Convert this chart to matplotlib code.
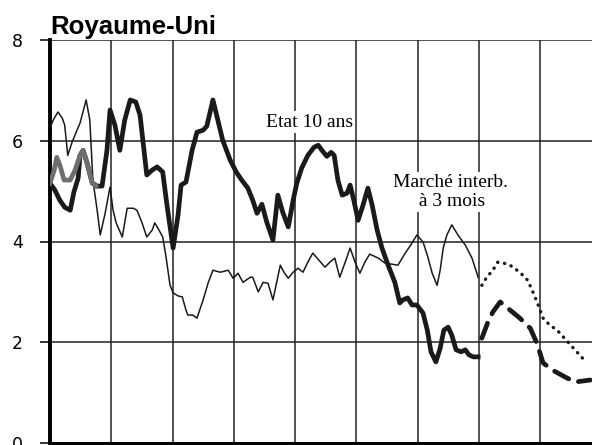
import matplotlib.pyplot as plt

# années (fraction) et taux
etat_x = [1990.00, 1990.08, 1990.16, 1990.24, 1990.33, 1990.39, 1990.46, 1990.49, 1990.54,
          1990.60, 1990.69, 1990.77, 1990.85, 1990.93, 1990.98, 1991.06, 1991.14, 1991.22,
          1991.31, 1991.40, 1991.47, 1991.58, 1991.67, 1991.75, 1991.84, 1991.91, 1992.01,
          1992.09, 1992.14, 1992.22, 1992.32, 1992.40, 1992.50, 1992.56, 1992.66, 1992.74,
          1992.82, 1992.94, 1993.04, 1993.13, 1993.23, 1993.31, 1993.38, 1993.46, 1993.54,
          1993.64, 1993.72, 1993.80, 1993.89, 1993.97, 1994.03, 1994.11, 1994.21, 1994.31,
          1994.38, 1994.44, 1994.52, 1994.59, 1994.64, 1994.70, 1994.77, 1994.85, 1994.90,
          1994.96, 1995.03, 1995.11, 1995.19, 1995.26, 1995.34, 1995.42, 1995.52, 1995.63,
          1995.71, 1995.76, 1995.84, 1995.91, 1995.99, 1996.09, 1996.16, 1996.22, 1996.30,
          1996.37, 1996.43, 1996.50, 1996.56, 1996.63, 1996.71, 1996.78, 1996.84, 1996.91,
          1996.99]
etat_y = [5.16, 5.02, 4.82, 4.68, 4.62, 4.98, 5.26, 5.71, 5.81,
          5.58, 5.16, 5.10, 5.10, 5.81, 6.61, 6.31, 5.81, 6.41,
          6.81, 6.77, 6.51, 5.32, 5.42, 5.48, 5.38, 4.72, 3.87,
          4.52, 5.12, 5.18, 5.81, 6.17, 6.21, 6.29, 6.81, 6.41,
          6.01, 5.62, 5.38, 5.22, 5.06, 4.82, 4.56, 4.74, 4.38,
          4.03, 4.92, 4.58, 4.29, 4.82, 5.16, 5.46, 5.71, 5.87,
          5.91, 5.81, 5.69, 5.77, 5.71, 5.22, 4.92, 4.96, 5.12,
          4.82, 4.42, 4.72, 5.06, 4.72, 4.23, 3.87, 3.53, 3.19,
          2.78, 2.84, 2.88, 2.74, 2.74, 2.58, 2.24, 1.81, 1.61,
          1.88, 2.24, 2.30, 2.14, 1.85, 1.81, 1.85, 1.75, 1.71,
          1.71]

# début de la série en gris
gris_x = [1990.00, 1990.07, 1990.11, 1990.16, 1990.23, 1990.33, 1990.41, 1990.49,
          1990.54, 1990.60, 1990.69, 1990.75]
gris_y = [5.16, 5.42, 5.67, 5.52, 5.22, 5.22, 5.42, 5.71, 5.81, 5.58, 5.16, 5.10]

interb_x = [1990.00, 1990.07, 1990.13, 1990.20, 1990.24, 1990.29, 1990.36, 1990.42, 1990.49,
            1990.59, 1990.65, 1990.70, 1990.77, 1990.82, 1990.90, 1990.98, 1991.03, 1991.08,
            1991.13, 1991.18, 1991.26, 1991.36, 1991.42, 1991.50, 1991.58, 1991.67, 1991.71,
            1991.76, 1991.84, 1991.89, 1991.96, 1992.01, 1992.09, 1992.16, 1992.22, 1992.25,
            1992.33, 1992.40, 1992.50, 1992.58, 1992.66, 1992.78, 1992.91, 1992.99, 1993.07,
            1993.15, 1993.27, 1993.31, 1993.40, 1993.48, 1993.56, 1993.64, 1993.76, 1993.82,
            1993.89, 1993.97, 1994.05, 1994.13, 1994.21, 1994.29, 1994.39, 1994.49, 1994.57,
            1994.65, 1994.73, 1994.82, 1994.90, 1994.98, 1995.06, 1995.14, 1995.22, 1995.36,
            1995.47, 1995.58, 1995.68, 1995.80, 1995.89, 1995.99, 1996.09, 1996.16, 1996.24,
            1996.32, 1996.37, 1996.42, 1996.48, 1996.56, 1996.66, 1996.78, 1996.89, 1996.99]
interb_y = [6.27, 6.45, 6.57, 6.45, 6.31, 5.71, 5.97, 6.15, 6.35,
            6.81, 6.41, 5.22, 4.62, 4.13, 4.56, 5.08, 4.62, 4.37,
            4.23, 4.09, 4.66, 4.66, 4.62, 4.38, 4.09, 4.23, 4.37,
            4.27, 4.09, 3.73, 3.13, 2.98, 2.92, 2.90, 2.64, 2.54,
            2.54, 2.48, 2.84, 3.17, 3.43, 3.39, 3.43, 3.27, 3.37,
            3.19, 3.29, 3.29, 3.00, 3.19, 3.17, 2.84, 3.53, 3.39,
            3.27, 3.39, 3.47, 3.39, 3.59, 3.77, 3.63, 3.49, 3.59,
            3.67, 3.29, 3.59, 3.87, 3.59, 3.37, 3.59, 3.75, 3.67,
            3.57, 3.55, 3.53, 3.77, 3.93, 4.13, 3.99, 3.73, 3.37,
            3.13, 3.43, 3.87, 4.13, 4.33, 4.13, 3.93, 3.67, 3.29]

# prévisions
prev_pt_x = [1997.05, 1997.13, 1997.23, 1997.31, 1997.41, 1997.51, 1997.67, 1997.80,
             1997.89, 1997.97, 1998.05, 1998.16, 1998.28, 1998.46, 1998.60, 1998.75]
prev_pt_y = [3.13, 3.29, 3.43, 3.59, 3.57, 3.53, 3.39, 3.23,
             2.98, 2.74, 2.48, 2.34, 2.24, 2.00, 1.81, 1.61]

prev_tir_x = [1997.05, 1997.15, 1997.23, 1997.35, 1997.51, 1997.67, 1997.84, 1997.95,
              1998.05, 1998.20, 1998.41, 1998.57, 1998.82]
prev_tir_y = [2.08, 2.40, 2.60, 2.80, 2.64, 2.48, 2.28, 1.98,
              1.59, 1.45, 1.31, 1.21, 1.25]

annees = [1991, 1992, 1993, 1994, 1995, 1996, 1997, 1998]
yticks = [0, 2, 4, 6, 8]

fig = plt.figure(figsize=(5.92, 4.45), dpi=100)
ax = fig.add_axes([50 / 592, 2 / 445, 542 / 592, 403 / 445])

for a in annees:
    ax.axvline(a, color='#222222', lw=1.1, zorder=1)
for v in yticks[1:]:
    ax.axhline(v, color='#222222', lw=1.1, zorder=1)

ax.plot(interb_x, interb_y, color='#1a1a1a', lw=1.1, zorder=3)
ax.plot(etat_x, etat_y, color='#1a1a1a', lw=3.4, solid_joinstyle='round', zorder=4)
ax.plot(gris_x, gris_y, color='#6e6e6e', lw=3.4, solid_joinstyle='round', zorder=5)
ax.plot(prev_pt_x, prev_pt_y, color='#1a1a1a', lw=2.4, linestyle=(0, (0.1, 2.0)),
        dash_capstyle='round', zorder=4)
ax.plot(prev_tir_x, prev_tir_y, color='#1a1a1a', lw=3.4, linestyle=(0, (3.4, 2.2)),
        dash_capstyle='round', zorder=4)

boite = dict(facecolor='white', edgecolor='none', pad=1.5)
ax.text(1994.24, 6.37, 'Etat 10 ans', family='Liberation Serif', fontsize=14,
        ha='center', va='center', bbox=boite, zorder=2)
ax.text(1996.53, 4.98, 'Marché interb.\n à 3 mois', family='Liberation Serif', fontsize=14,
        ha='center', va='center', linespacing=1.1, bbox=boite, zorder=2)

ax.set_xlim(1990, 1990 + 542 / 61.25)
ax.set_ylim(0, 8)
ax.set_xticks([])
ax.set_yticks(yticks)
ax.tick_params(axis='y', direction='out', length=7.5, width=1.1, pad=12, labelsize=12.5)
for s in ['top', 'right']:
    ax.spines[s].set_visible(False)
ax.spines['left'].set_linewidth(2.8)
ax.spines['bottom'].set_linewidth(2.2)

fig.text(50 / 592, 1 - 34 / 445, 'Royaume-Uni', family='Liberation Sans', fontweight='bold',
         fontsize=18.5, ha='left', va='baseline')

fig.savefig('out.png', dpi=100)
